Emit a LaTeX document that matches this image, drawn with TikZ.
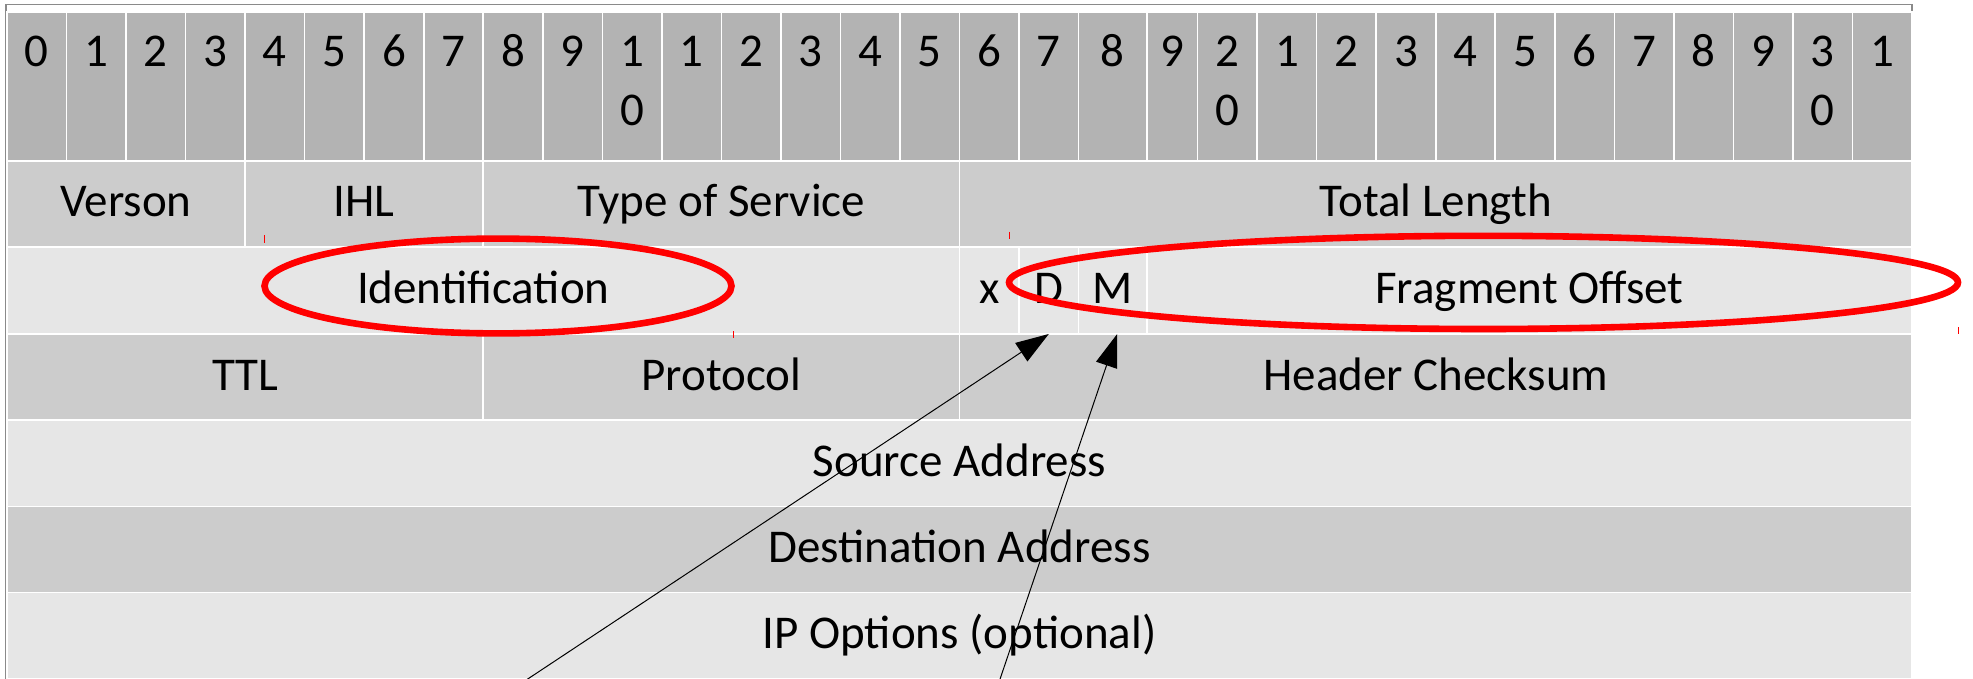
\documentclass[tikz,border=0pt]{standalone}
\usepackage{fontspec}
\setmainfont{Carlito}
\usetikzlibrary{arrows.meta}

\definecolor{hdrgray}{HTML}{B3B3B3}
\definecolor{rowdark}{HTML}{CCCCCC}
\definecolor{rowlight}{HTML}{E6E6E6}
\definecolor{framegray}{HTML}{8A8A8A}
\definecolor{ringred}{HTML}{FF0000}

% one table cell: name, x1, y1, x2, y2, fill, text
\newcommand\fieldcell[7]{%
  \pgfmathsetlengthmacro\fcw{(#4-#2)/2*1pt}%
  \pgfmathsetlengthmacro\fch{(#5-#3)/2*1pt}%
  \node[cellbox, fill=#6, minimum width=\fcw, minimum height=\fch] (#1) at (#2,#3) {#7};%
}

\begin{document}
\begin{tikzpicture}[x=0.5pt, y=-0.5pt,
  every node/.style={font=\fontsize{23.5pt}{29.2pt}\selectfont, text=black},
  cellbox/.style={draw=white, line width=0.8pt, inner sep=0pt, outer sep=0pt,
    anchor=north west, text height=16.5pt, text depth=3.5pt},
  bitnum/.style={anchor=base, inner sep=0pt},
  ring/.style={draw=ringred, line width=3.3pt},
  handle/.style={draw=ringred, line width=0.5pt},
  pointer/.style={draw=black, line width=0.5pt, -{Triangle[length=16.5pt, width=11pt]}}]

\useasboundingbox (0,0) rectangle (1973,679);
\clip (0,0) rectangle (1973,679);

% outer frame of the table
\draw[framegray, line width=0.6pt] (6,4.3) rectangle (1912,700);

% bit numbering row
\foreach \i/\xa/\xb/\lab in {
  0/7/66.53/0, 1/66.53/126.06/1, 2/126.06/185.59/2, 3/185.59/245.12/3,
  4/245.12/304.65/4, 5/304.65/364.18/5, 6/364.18/423.71/6, 7/423.71/483.24/7,
  8/483.24/542.77/8, 9/542.77/602.30/9, 10/602.30/661.83/{1\\0}, 11/661.83/721.36/1,
  12/721.36/780.89/2, 13/780.89/840.42/3, 14/840.42/899.95/4, 15/899.95/959.48/5,
  16/959.48/1019.01/6, 17/1019.01/1078.54/7, 18/1078.54/1147/8, 19/1147/1197.60/9,
  20/1197.60/1257.13/{2\\0}, 21/1257.13/1316.66/1, 22/1316.66/1376.19/2, 23/1376.19/1435.72/3,
  24/1435.72/1495.25/4, 25/1495.25/1554.78/5, 26/1554.78/1614.31/6, 27/1614.31/1673.84/7,
  28/1673.84/1733.37/8, 29/1733.37/1792.90/9, 30/1792.90/1852.43/{3\\0}, 31/1852.43/1912/1}{
  \fieldcell{h\i}{\xa}{12}{\xb}{161}{hdrgray}{}
  \node[bitnum] (n\i) at ({(\xa+\xb)/2},66.7) {\begin{tabular}[t]{@{}c@{}}\lab\end{tabular}};
}

% header fields
\fieldcell{ver}{7}{161}{245.12}{247}{rowdark}{Verson}
\fieldcell{ihl}{245.12}{161}{483.24}{247}{rowdark}{IHL}
\fieldcell{tos}{483.24}{161}{959.48}{247}{rowdark}{Type of Service}
\fieldcell{tlen}{959.48}{161}{1912}{247}{rowdark}{Total Length}

\fieldcell{ident}{7}{247}{959.48}{334}{rowlight}{Identification}
\fieldcell{X}{959.48}{247}{1019.01}{334}{rowlight}{x}
\fieldcell{D}{1019.01}{247}{1078.54}{334}{rowlight}{D}
\fieldcell{M}{1078.54}{247}{1147}{334}{rowlight}{M}
\fieldcell{frag}{1147}{247}{1912}{334}{rowlight}{Fragment Offset}

\fieldcell{ttl}{7}{334}{483.24}{420}{rowdark}{TTL}
\fieldcell{proto}{483.24}{334}{959.48}{420}{rowdark}{Protocol}
\fieldcell{csum}{959.48}{334}{1912}{420}{rowdark}{Header Checksum}

\fieldcell{src}{7}{420}{1912}{506.5}{rowlight}{Source Address}
\fieldcell{dst}{7}{506.5}{1912}{592.5}{rowdark}{Destination Address}
\fieldcell{opt}{7}{592.5}{1912}{679}{rowlight}{IP Options (optional)}

% red rings around the fragmentation fields
\draw[ring] (498,286) ellipse [x radius=116.75pt, y radius=23.7pt];
\draw[ring] (1483.5,282.4) ellipse [x radius=237.25pt, y radius=23.3pt];

% small selection marks of the rings
\draw[handle] (264.3,235) -- (264.3,242.5);
\draw[handle] (733,331) -- (733,337.5);
\draw[handle] (1009.4,231.5) -- (1009.4,238.5);
\draw[handle] (1958.3,327) -- (1958.3,334);

% pointers to the D and M flags
\coordinate (tailD) at (511.1,690);
\coordinate (tailM) at (996.3,690);
\draw[pointer] (tailD) -- (D.south);
\draw[pointer] (tailM) -- ([xshift=2.2pt]M.south);
\end{tikzpicture}
\end{document}
